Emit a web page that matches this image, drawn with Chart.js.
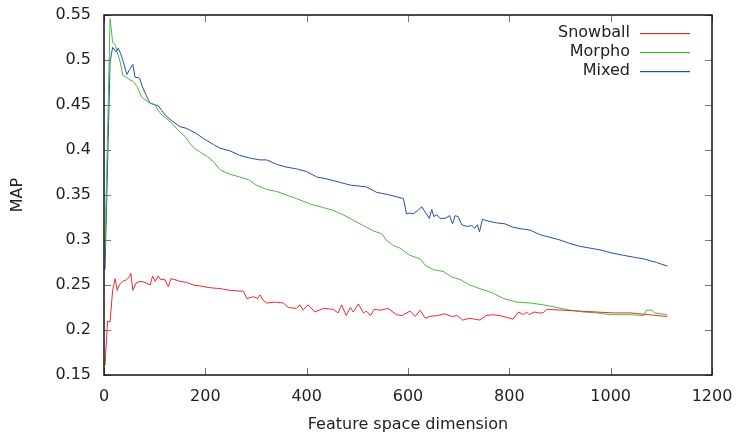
<!DOCTYPE html>
<html>
<head>
<meta charset="utf-8">
<script src="https://cdn.jsdelivr.net/npm/chart.js@4.4.1/dist/chart.umd.min.js"></script>
<style>
  html, body { margin: 0; padding: 0; background: #fff; }
  #wrap { width: 736px; height: 437px; position: relative; }
</style>
</head>
<body>
<div id="wrap"><canvas id="chart"></canvas></div>
<script>
// values
const snowballX = [2, 7, 12, 17, 22, 26, 30, 37, 45, 50, 53, 57, 63, 71, 81, 91, 96, 101, 107, 112,
    120, 127, 132, 140, 150, 163, 176, 189, 209, 229, 249, 275, 282, 295, 303, 308, 314, 321, 338, 354,
    364, 380, 387, 393, 403, 416, 433, 452, 462, 469, 478, 486, 492, 502, 512, 518, 526, 533, 545, 561,
    577, 588, 604, 614, 624, 634, 643, 657, 673, 686, 697, 708, 722, 732, 742, 754, 768, 782, 807, 818,
    828, 834, 839, 849, 857, 867, 874, 907, 939, 972, 1005, 1038, 1075, 1112];
const snowballY = [0.161, 0.210, 0.209, 0.244, 0.257, 0.244, 0.250, 0.254, 0.256, 0.259,
    0.263, 0.244, 0.252, 0.254, 0.253, 0.250, 0.260, 0.254, 0.260, 0.256,
    0.256, 0.248, 0.257, 0.256, 0.254, 0.253, 0.250, 0.249, 0.247, 0.246,
    0.244, 0.243, 0.235, 0.237, 0.235, 0.239, 0.233, 0.230, 0.231, 0.230,
    0.225, 0.224, 0.228, 0.222, 0.228, 0.220, 0.224, 0.223, 0.219, 0.228,
    0.216, 0.225, 0.220, 0.229, 0.219, 0.221, 0.216, 0.223, 0.222, 0.224,
    0.217, 0.216, 0.221, 0.215, 0.222, 0.213, 0.215, 0.216, 0.218, 0.215,
    0.216, 0.211, 0.213, 0.212, 0.211, 0.216, 0.217, 0.216, 0.212, 0.220,
    0.217, 0.220, 0.217, 0.220, 0.219, 0.219, 0.223, 0.222, 0.221, 0.220,
    0.219, 0.219, 0.217, 0.215];

const morphoX = [2, 12, 17, 22, 26, 32, 37, 43, 51, 58, 66, 74, 81, 91, 101, 107, 114, 130, 140, 150,
    160, 170, 180, 189, 203, 216, 226, 232, 249, 268, 285, 301, 321, 341, 360, 380, 407, 433, 452, 472,
    492, 512, 532, 548, 557, 571, 584, 604, 624, 634, 650, 670, 686, 703, 722, 742, 768, 788, 815, 841,
    867, 894, 920, 946, 972, 999, 1038, 1065, 1071, 1081, 1087, 1112];
const morphoY = [0.29, 0.546, 0.520, 0.517, 0.509, 0.498, 0.483, 0.481, 0.478, 0.476,
    0.470, 0.459, 0.456, 0.452, 0.450, 0.444, 0.439, 0.432, 0.426, 0.420,
    0.415, 0.407, 0.401, 0.398, 0.393, 0.387, 0.380, 0.377, 0.373, 0.370,
    0.367, 0.361, 0.356, 0.354, 0.350, 0.346, 0.340, 0.336, 0.333, 0.328,
    0.322, 0.316, 0.310, 0.307, 0.300, 0.294, 0.291, 0.283, 0.279, 0.272,
    0.267, 0.265, 0.259, 0.256, 0.250, 0.246, 0.241, 0.235, 0.231, 0.230,
    0.228, 0.225, 0.222, 0.220, 0.219, 0.217, 0.217, 0.216, 0.222, 0.222,
    0.219, 0.217];

const mixedX = [2, 12, 17, 24, 28, 33, 38, 45, 50, 57, 61, 70, 76, 83, 91, 97, 107, 114, 120,
    135, 150, 163, 180, 196, 216, 229, 249, 268, 288, 308, 321, 341, 360, 380, 400, 420, 439, 452, 466,
    486, 518, 538, 564, 591, 597, 604, 610, 620, 627, 634, 642, 647, 651, 657, 663, 673, 682, 688, 693,
    699, 706, 716, 726, 732, 737, 741, 747, 758, 775, 791, 808, 828, 841, 860, 880, 900, 920, 939, 959,
    979, 999, 1025, 1045, 1065, 1078, 1091, 1101, 1112];
const mixedY = [0.267, 0.498, 0.514, 0.509, 0.513, 0.507, 0.498, 0.484, 0.489,
    0.495, 0.481, 0.480, 0.470, 0.461, 0.452, 0.451, 0.449, 0.444, 0.439,
    0.432, 0.426, 0.424, 0.419, 0.413, 0.406, 0.402, 0.399, 0.394, 0.391,
    0.389, 0.389, 0.384, 0.381, 0.379, 0.376, 0.370, 0.368, 0.366, 0.364,
    0.361, 0.359, 0.353, 0.350, 0.346, 0.329, 0.330, 0.329, 0.333, 0.337,
    0.331, 0.324, 0.334, 0.326, 0.328, 0.324, 0.324, 0.327, 0.318, 0.327,
    0.326, 0.317, 0.315, 0.316, 0.313, 0.317, 0.309, 0.323, 0.321, 0.319,
    0.318, 0.314, 0.312, 0.311, 0.306, 0.303, 0.300, 0.296, 0.293, 0.291,
    0.289, 0.286, 0.283, 0.281, 0.279, 0.277, 0.275, 0.273, 0.271];

const seriesNames = ['Snowball', 'Morpho', 'Mixed'];
const seriesColors = ['#ee2a2a', '#4cb843', '#2350a8'];

const xTicks = [0, 200, 400, 600, 800, 1000, 1200];
const yTicks = [0.15, 0.2, 0.25, 0.3, 0.35, 0.4, 0.45, 0.5, 0.55];

const FONT = '"DejaVu Sans", sans-serif';

function toPoints(xs, ys) {
    return xs.map((x, i) => ({ x: x, y: ys[i] }));
}

// gnuplot-like frame: box, inward ticks on all four sides, key at top right
const gnuFrame = {
    id: 'gnuFrame',
    afterDatasetsDraw(chart) {
        const { ctx, chartArea: a, scales } = chart;
        ctx.save();
        ctx.strokeStyle = '#777';
        ctx.lineWidth = 1;
        ctx.beginPath();
        xTicks.forEach(v => {
            const px = Math.round(scales.x.getPixelForValue(v)) + 0.5;
            ctx.moveTo(px, a.bottom); ctx.lineTo(px, a.bottom - 7);
            ctx.moveTo(px, a.top); ctx.lineTo(px, a.top + 7);
        });
        yTicks.forEach(v => {
            const py = Math.round(scales.y.getPixelForValue(v)) + 0.5;
            ctx.moveTo(a.left, py); ctx.lineTo(a.left + 7, py);
            ctx.moveTo(a.right, py); ctx.lineTo(a.right - 7, py);
        });
        ctx.stroke();

        ctx.strokeStyle = '#111';
        ctx.lineWidth = 1.5;
        ctx.strokeRect(a.left, a.top, a.right - a.left, a.bottom - a.top);

        // key: label right-aligned, then a short line sample
        ctx.font = '16px ' + FONT;
        ctx.textAlign = 'right';
        ctx.textBaseline = 'middle';
        seriesNames.forEach((name, i) => {
            const y = 33 + i * 19;
            ctx.fillStyle = '#222';
            ctx.fillText(name, 630, y);
            ctx.fillStyle = seriesColors[i];
            ctx.fillRect(640, y, 50, 1.2);
        });
        ctx.restore();
    }
};

const datasets = [
    toPoints(snowballX, snowballY),
    toPoints(morphoX, morphoY),
    toPoints(mixedX, mixedY)
].map((pts, i) => ({
    label: seriesNames[i],
    data: pts,
    borderColor: seriesColors[i],
    borderWidth: 1,
    pointRadius: 0,
    tension: 0,
    fill: false
}));

new Chart(document.getElementById('chart'), {
    type: 'line',
    data: { datasets: datasets },
    options: {
        responsive: true,
        maintainAspectRatio: false,
        animation: false,
        layout: { padding: { top: 15, right: 24, left: 0, bottom: 0 } },
        plugins: {
            legend: { display: false },
            tooltip: { enabled: false }
        },
        scales: {
            x: {
                type: 'linear',
                min: 0,
                max: 1200,
                afterFit: s => {
                    s.height = 62;
                    s.paddingLeft = 0;
                    s.paddingRight = 0;
                },
                afterBuildTicks: s => { s.ticks = xTicks.map(v => ({ value: v })); },
                grid: { display: false, drawTicks: false },
                border: { display: false },
                ticks: {
                    color: '#222',
                    padding: 12,
                    maxRotation: 0,
                    font: { family: FONT, size: 16 },
                    callback: v => String(v)
                },
                title: {
                    display: true,
                    text: 'Feature space dimension',
                    color: '#222',
                    padding: { top: 4, bottom: 3 },
                    font: { family: FONT, size: 16 }
                }
            },
            y: {
                type: 'linear',
                min: 0.15,
                max: 0.55,
                afterFit: s => {
                    s.width = 104;
                    s.paddingTop = 0;
                    s.paddingBottom = 0;
                },
                afterBuildTicks: s => { s.ticks = yTicks.map(v => ({ value: v })); },
                grid: { display: false, drawTicks: false },
                border: { display: false },
                ticks: {
                    color: '#222',
                    padding: 13,
                    font: { family: FONT, size: 16 },
                    callback: v => String(+v.toFixed(2))
                },
                title: {
                    display: true,
                    text: 'MAP',
                    color: '#222',
                    padding: { top: 8, bottom: 0 },
                    font: { family: FONT, size: 16 }
                }
            }
        }
    },
    plugins: [gnuFrame]
});
</script>
</body>
</html>
